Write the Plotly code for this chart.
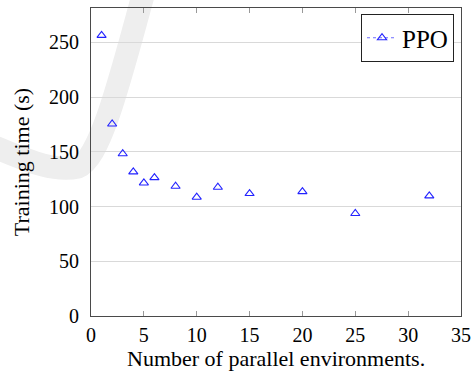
import plotly.graph_objects as go

# Training time of PPO versus the number of parallel environments
n_envs = [1, 2, 3, 4, 5, 6, 8, 10, 12, 15, 20, 25, 32]
train_time = [256.5, 175.5, 148.3, 131.7, 121.6, 126.5, 118.6, 108.6, 117.7, 111.9, 113.7, 93.7, 109.8]

x_ticks = [0, 5, 10, 15, 20, 25, 30, 35]
y_ticks = [0, 50, 100, 150, 200, 250]

FONT = "Liberation Serif"
BLUE = "#2323ff"
AXIS = "#4a4a4a"

W, H = 476, 371
L, R, T, B = 91, 15, 8, 55
PW, PH = W - L - R, H - T - B


def px(xp, yp):
    """Pixel position on the page -> paper coordinates of the plot area."""
    return (xp - L) / PW, (H - B - yp) / PH


def path(points):
    (x0, y0), rest = points[0], points[1:]
    s = "M {:.4f},{:.4f}".format(*px(x0, y0))
    for i in range(0, len(rest), 3):
        c = [px(*p) for p in rest[i:i + 3]]
        s += " C " + " ".join("{:.4f},{:.4f}".format(*q) for q in c)
    return s


fig = go.Figure()

fig.add_trace(go.Scatter(
    x=n_envs, y=train_time, mode="markers", showlegend=False,
    marker=dict(symbol="triangle-up-open", size=8, color=BLUE,
                line=dict(width=1.1, color=BLUE)),
))
# legend entry: dotted line with the triangle mark
fig.add_trace(go.Scatter(
    x=[None], y=[None], mode="lines+markers", name="PPO",
    line=dict(color="#6b6bff", width=1, dash="dot"),
    marker=dict(symbol="triangle-up-open", size=8, color=BLUE,
                line=dict(width=1.1, color=BLUE)),
))

# faint page watermark stroke behind the axes
fig.add_shape(
    type="path", xref="paper", yref="paper", layer="below",
    path=path([(144, -8), (121, 75), (101, 158), (78, 167),
               (52, 173), (22, 158), (-8, 146)]),
    line=dict(color="#eeeeee", width=23),
)

tick_font = dict(family=FONT, size=20, color="black")
title_font = dict(family=FONT, size=22, color="black")

# x-axis title placed at the bottom edge of the page
fig.add_annotation(
    text="Number of parallel environments.", font=title_font,
    xref="paper", yref="paper", x=0.5, y=px(0, H)[1], yshift=-1,
    xanchor="center", yanchor="bottom", showarrow=False, borderpad=0,
)

fig.update_layout(
    width=W, height=H,
    margin=dict(l=L, r=R, t=T, b=B, pad=0, autoexpand=False),
    paper_bgcolor="white", plot_bgcolor="rgba(0,0,0,0)",
    font=dict(family=FONT, size=20, color="black"),
    legend=dict(
        x=(454 - L) / PW, y=(H - B - 14) / PH, xanchor="right", yanchor="top",
        bordercolor="#222", borderwidth=1, bgcolor="white",
        font=dict(family=FONT, size=25), itemwidth=30,
    ),
    xaxis=dict(
        range=[0, 35], tickvals=x_ticks, ticktext=[str(v) for v in x_ticks],
        showgrid=False, zeroline=False, automargin=False,
        showline=True, linecolor=AXIS, linewidth=1.2, mirror="ticks",
        ticks="inside", ticklen=5, tickcolor="#999", tickwidth=1,
        tickfont=tick_font, ticklabelstandoff=1,
    ),
    yaxis=dict(
        range=[0, 281.5], tickvals=y_ticks, ticktext=[str(v) for v in y_ticks],
        showgrid=True, gridcolor="#d9d9d9", gridwidth=1, zeroline=False,
        automargin=False,
        showline=True, linecolor=AXIS, linewidth=1.2, mirror="ticks",
        ticks="", tickfont=tick_font, ticklabelstandoff=7,
        title=dict(text="Training time (s)", font=title_font, standoff=13),
    ),
)

fig.write_html("out.html")
